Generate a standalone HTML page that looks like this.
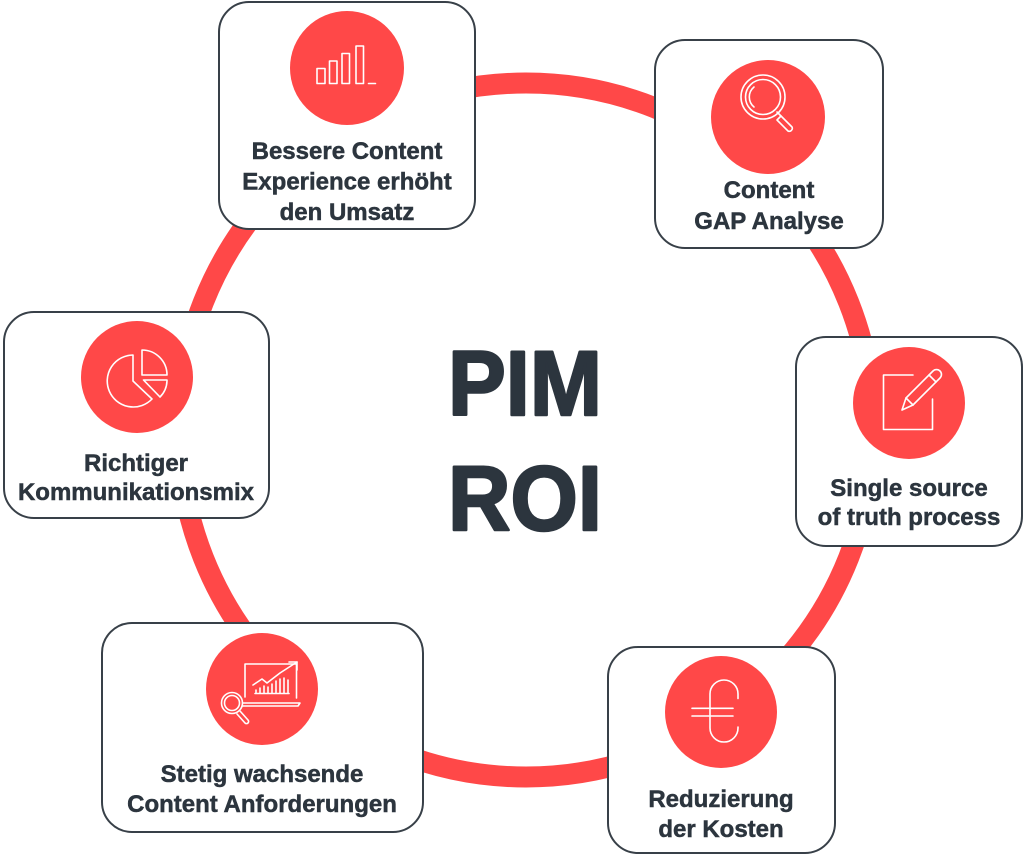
<!DOCTYPE html>
<html>
<head>
<meta charset="utf-8">
<style>
  html, body { margin:0; padding:0; background:#ffffff; }
  body { width:1024px; height:859px; overflow:hidden; }
  svg { display:block; }
  .lbl { font-family:"Liberation Sans", Arial, sans-serif; font-weight:bold; font-size:24px; fill:#2c353e; stroke:#2c353e; stroke-width:0.5; text-anchor:middle; }
  .big { font-family:"Liberation Sans", Arial, sans-serif; font-weight:bold; font-size:92px; fill:#2c353e; stroke:#2c353e; stroke-width:2.5; stroke-linejoin:round; text-anchor:middle; }
  .box { fill:#ffffff; stroke:#384048; stroke-width:2; }
  .dot { fill:#ff4848; }
  .ic { fill:none; stroke:#ffffff; stroke-width:1.6; stroke-linecap:round; stroke-linejoin:round; }
</style>
</head>
<body>
<svg width="1024" height="859" viewBox="0 0 1024 859" xmlns="http://www.w3.org/2000/svg">
  <!-- ring -->
  <circle cx="526" cy="430" r="347" fill="none" stroke="#ff4848" stroke-width="21"/>

  <!-- center text -->
  <text class="big" x="525" y="415" textLength="154" lengthAdjust="spacingAndGlyphs">PIM</text>
  <text class="big" x="525" y="530" textLength="154" lengthAdjust="spacingAndGlyphs">ROI</text>

  <!-- Box 1 -->
  <rect class="box" x="219" y="2" width="256" height="227" rx="30" ry="30"/>
  <circle class="dot" cx="347" cy="68" r="57"/>
  <g class="ic">
    <rect x="317" y="68.5" width="8" height="15"/>
    <rect x="329.5" y="61" width="7.5" height="22.5"/>
    <rect x="342" y="53.5" width="7.5" height="30"/>
    <rect x="356" y="46" width="7.5" height="37.5"/>
    <line x1="368.5" y1="83.5" x2="375.5" y2="83.5"/>
  </g>
  <text class="lbl" x="347" y="159">Bessere Content</text>
  <text class="lbl" x="347" y="189.5">Experience erhöht</text>
  <text class="lbl" x="347" y="220">den Umsatz</text>

  <!-- Box 2 -->
  <rect class="box" x="655" y="40" width="228" height="208" rx="30" ry="30"/>
  <circle class="dot" cx="768" cy="117" r="57"/>
  <g class="ic">
    <circle cx="763" cy="97" r="22"/>
    <circle cx="763" cy="97" r="17.5"/>
    <path d="M754 87 A13 13 0 0 0 754 107"/>
    <path d="M777 112 L781 116"/>
    <path d="M781 116 L792 127 A3 3 0 0 1 788 131 L777 120 Z"/>
  </g>
  <text class="lbl" x="769" y="198">Content</text>
  <text class="lbl" x="769" y="229">GAP Analyse</text>

  <!-- Box 3 -->
  <rect class="box" x="796" y="337" width="226" height="209" rx="30" ry="30"/>
  <circle class="dot" cx="909" cy="403" r="56"/>
  <g class="ic">
    <path d="M913 375 L883.5 375 L883.5 429.5 L932.5 429.5 L932.5 399"/>
    <path d="M902 410 L906 398 L933 371 A4 4 0 0 1 940 378 L913 405 Z"/>
    <line x1="906" y1="398" x2="913" y2="405"/>
    <line x1="929" y1="375" x2="936" y2="382"/>
  </g>
  <text class="lbl" x="909" y="496">Single source</text>
  <text class="lbl" x="909" y="525">of truth process</text>

  <!-- Box 4 -->
  <rect class="box" x="608" y="647" width="227" height="206" rx="30" ry="30"/>
  <circle class="dot" cx="721" cy="712" r="56"/>
  <g class="ic">
    <path d="M738 698.5 L738 694 A14 14 0 0 0 710 694 L710 728 A14 14 0 0 0 738 728 L738 727"/>
    <line x1="692" y1="708.3" x2="733" y2="708.3"/>
    <line x1="692" y1="716" x2="733" y2="716"/>
  </g>
  <text class="lbl" x="721" y="807">Reduzierung</text>
  <text class="lbl" x="721" y="837">der Kosten</text>

  <!-- Box 5 -->
  <rect class="box" x="102" y="623" width="321" height="209" rx="30" ry="30"/>
  <circle class="dot" cx="262" cy="689" r="56"/>
  <g class="ic">
    <path d="M245 697 L245 664 L296.5 664 L296.5 698"/>
    <path d="M243 703 L300 703 L298 706 L242 706"/>
    <path d="M253 685 L262 679 L267 683 L280 673 L297 662"/>
    <path d="M289 662 L297 662 L297 670"/>
    <line x1="256" y1="693" x2="256" y2="690"/>
    <line x1="260" y1="693" x2="260" y2="688"/>
    <line x1="264" y1="693" x2="264" y2="686"/>
    <line x1="268" y1="693" x2="268" y2="687"/>
    <line x1="272" y1="693" x2="272" y2="684"/>
    <line x1="276" y1="693" x2="276" y2="681"/>
    <line x1="280" y1="693" x2="280" y2="679"/>
    <line x1="284" y1="693" x2="284" y2="678"/>
    <line x1="288" y1="693" x2="288" y2="680"/>
    <line x1="255" y1="693.5" x2="289" y2="693.5"/>
    <circle cx="232" cy="703" r="10.5"/>
    <circle cx="232" cy="703" r="7.5"/>
    <path d="M240 711 L248 720 A2 2 0 0 1 245 723 L237 714"/>
  </g>
  <text class="lbl" x="262" y="782">Stetig wachsende</text>
  <text class="lbl" x="262" y="812">Content Anforderungen</text>

  <!-- Box 6 -->
  <rect class="box" x="4" y="312" width="265" height="206" rx="30" ry="30"/>
  <circle class="dot" cx="137" cy="377" r="56"/>
  <g class="ic">
    <path d="M133 381 L133 355 A26 26 0 1 0 152 399 Z"/>
    <path d="M142 350 L142 375 L167 375 A25 25 0 0 0 142 350 Z"/>
    <path d="M143.5 380 L167 380 A24 24 0 0 1 160 397 Z"/>
  </g>
  <text class="lbl" x="136" y="471">Richtiger</text>
  <text class="lbl" x="136" y="500">Kommunikationsmix</text>
</svg>
</body>
</html>
